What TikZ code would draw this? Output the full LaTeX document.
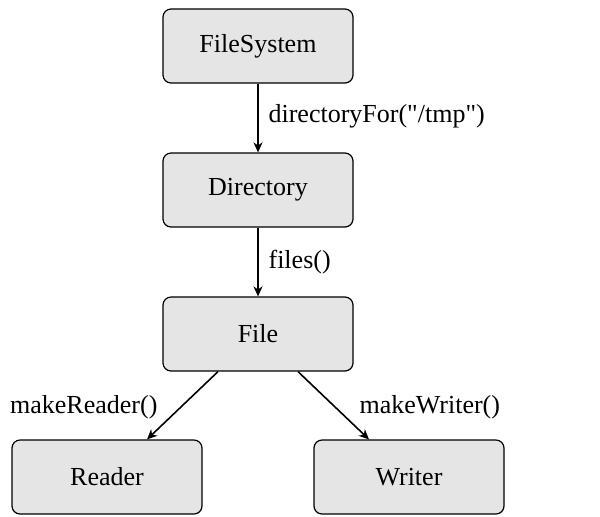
\documentclass[tikz,border=0pt]{standalone}
\usepackage{fontspec}
\setmainfont{Liberation Serif}[Ligatures=TeXOff]
\usepackage{tikz}
\usetikzlibrary{arrows.meta, positioning}

\tikzset{
  objbox/.style={draw, rounded corners=4pt, fill=gray!20, minimum width=95pt,
    minimum height=37pt, font=\fontsize{13}{15}\selectfont},
  calllabel/.style={font=\fontsize{13}{15}\selectfont, inner sep=1pt}
}

\begin{document}
\begin{tikzpicture}[x=0.5pt, y=-0.5pt, >={Stealth[length=5pt, width=4.5pt, inset=1.5pt]}, semithick]
\useasboundingbox (0,0) rectangle (600,516);
% objects
\node[objbox] (fs) at (258,46) {FileSystem};
\node[objbox] (dir) at (258,190) {Directory};
\node[objbox] (file) at (258,334) {File};
\node[objbox] (reader) at (107,477) {Reader};
\node[objbox] (writer) at (409,477) {Writer};
% calls
\draw[->, thick] (fs) -- (dir);
\draw[->, thick] (dir) -- (file);
\draw[->, thick] ([xshift=-20pt]file.south) -- ([xshift=20pt]reader.north);
\draw[->, thick] ([xshift=20pt]file.south) -- ([xshift=-20pt]writer.north);
\node[calllabel, anchor=west] (lbldir) at (266,116) {directoryFor("/tmp")};
\node[calllabel, anchor=west] (lblfiles) at (266,262) {files()};
\node[calllabel, anchor=east] (lblreader) at (160,407) {makeReader()};
\node[calllabel, anchor=west] (lblwriter) at (357,407) {makeWriter()};
\end{tikzpicture}
\end{document}
